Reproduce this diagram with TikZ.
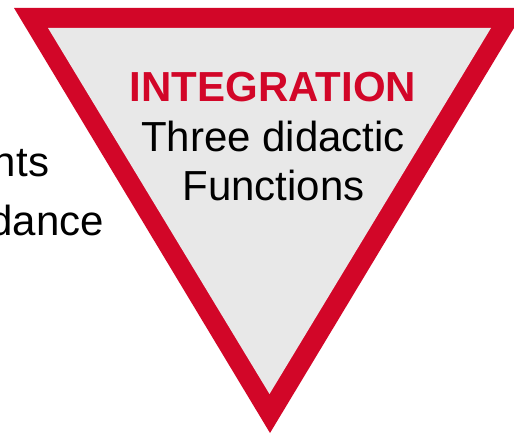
\documentclass[tikz,border=0pt]{standalone}
\usepackage{fontspec}
\setmainfont{Liberation Sans}
\definecolor{signred}{RGB}{210,6,40}
\definecolor{signgray}{RGB}{232,232,232}
\tikzset{
  lbl/.style={inner sep=0pt, outer sep=0pt, anchor=base, font=\fontsize{42}{42}\selectfont},
  title/.style={lbl, text=signred, font=\fontsize{42}{42}\selectfont\bfseries},
}
\begin{document}
\begin{tikzpicture}[x=1pt,y=-1pt]
\useasboundingbox (0,0) rectangle (514,435);
\begin{scope}
\clip (0,0) rectangle (514,435);
\fill[signred] (14,8) -- (526,8) -- (270,433) -- cycle;
\fill[signgray] (48,28) -- (491,28) -- (269.5,394) -- cycle;
\node[lbl, anchor=base east] (nts) at (49,177) {nts};
\node[lbl, anchor=base east] (dance) at (104,236) {dance};
\end{scope}
\node[title] (integ) at (273,102) {INTEGRATION};
\node[lbl] (three) at (273,152) {Three didactic};
\node[lbl] (func) at (273.5,201) {Functions};
\end{tikzpicture}
\end{document}
